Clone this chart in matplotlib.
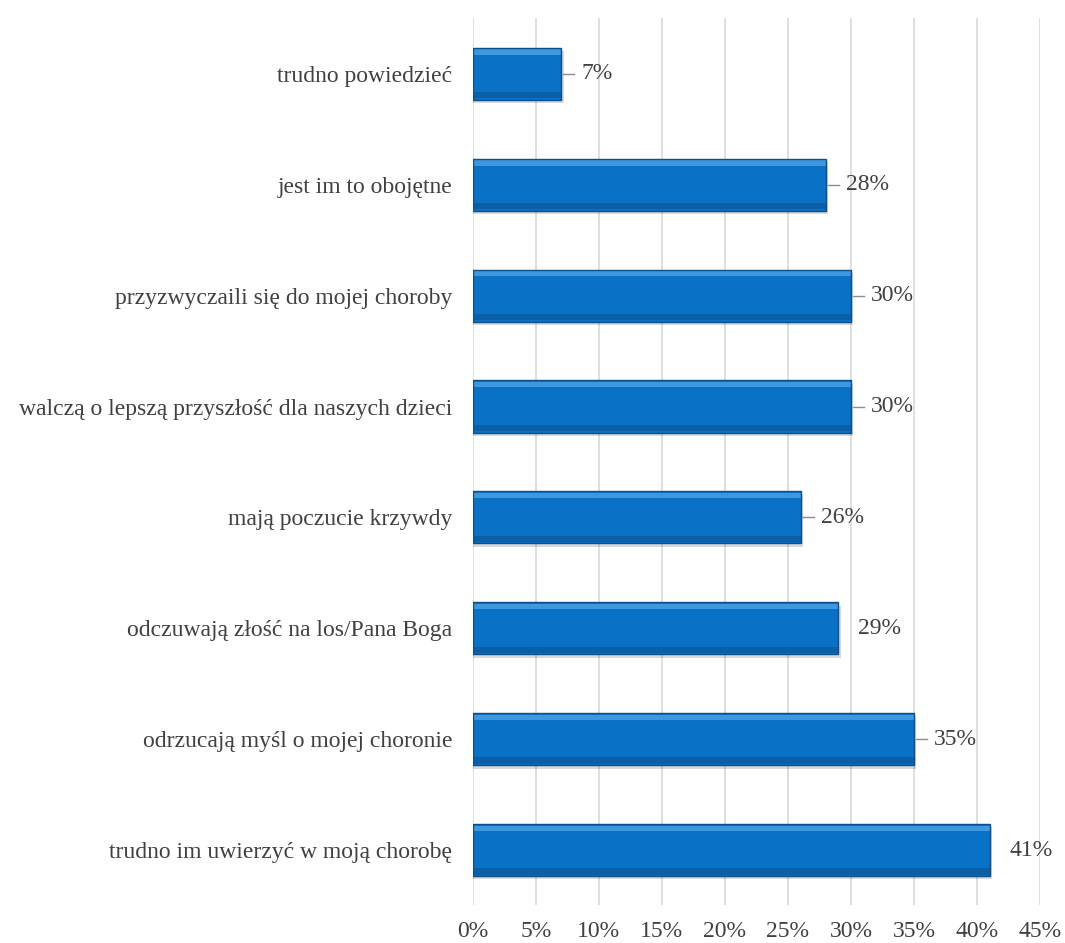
import numpy as np
import matplotlib
matplotlib.use("Agg")
import matplotlib.pyplot as plt
from matplotlib.ticker import FuncFormatter

categories = [
    "trudno im uwierzyć w moją chorobę",
    "odrzucają myśl o mojej choronie",
    "odczuwają złość na los/Pana Boga",
    "mają poczucie krzywdy",
    "walczą o lepszą przyszłość dla naszych dzieci",
    "przyzwyczaili się do mojej choroby",
    "jest im to obojętne",
    "trudno powiedzieć",
]
values = [41, 35, 29, 26, 30, 30, 28, 7]
leader = [False, True, False, True, True, True, True, True]

plt.rcParams["font.family"] = ["Liberation Serif", "DejaVu Serif"]
txt = "#404040"

fig = plt.figure(figsize=(10.65, 9.43), dpi=100)
ax = fig.add_axes([0.444, 0.0398, 0.5325, 0.9406])

y = np.arange(len(categories))
h = 0.47
# shadow
ax.barh(y - 0.03, np.array(values) + 0.2, height=h, color="#000000", alpha=0.15,
        zorder=2, linewidth=0)
ax.barh(y, values, height=h, color="#0a72c6", linewidth=0, zorder=3)
# bevel: lighter top, darker bottom
ax.barh(y + h * 0.42, values, height=h * 0.10, color="#3f98de", linewidth=0, zorder=4)
ax.barh(y - h * 0.41, values, height=h * 0.12, color="#0a5fa6", linewidth=0, zorder=4)
ax.barh(y, values, height=h, color="none", edgecolor="#0b4f8c", linewidth=1.0, zorder=5)

for yi, v, ld in zip(y, values, leader):
    if ld:
        ax.plot([v + 0.15, v + 1.05], [yi, yi], color="#8c8c8c", lw=1.0, zorder=6)
    ax.text(v + 1.6, yi, f"{v}%", va="center", ha="left", fontsize=17, color=txt)

ax.set_xlim(0, 45)
ax.set_ylim(-0.5, len(categories) - 0.5)
ax.set_xticks(np.arange(0, 46, 5))
ax.xaxis.set_major_formatter(FuncFormatter(lambda x, p: f"{x:.0f}%"))
ax.set_yticks(y)
ax.set_yticklabels(categories)
ax.tick_params(axis="both", length=0, labelsize=17, colors=txt)
ax.tick_params(axis="y", pad=15)
ax.tick_params(axis="x", pad=11)
ax.grid(axis="x", color="#d9d9d9", lw=1.2, zorder=0)
ax.set_axisbelow(True)
for s in ax.spines.values():
    s.set_visible(False)

fig.savefig("out.png", dpi=100)
